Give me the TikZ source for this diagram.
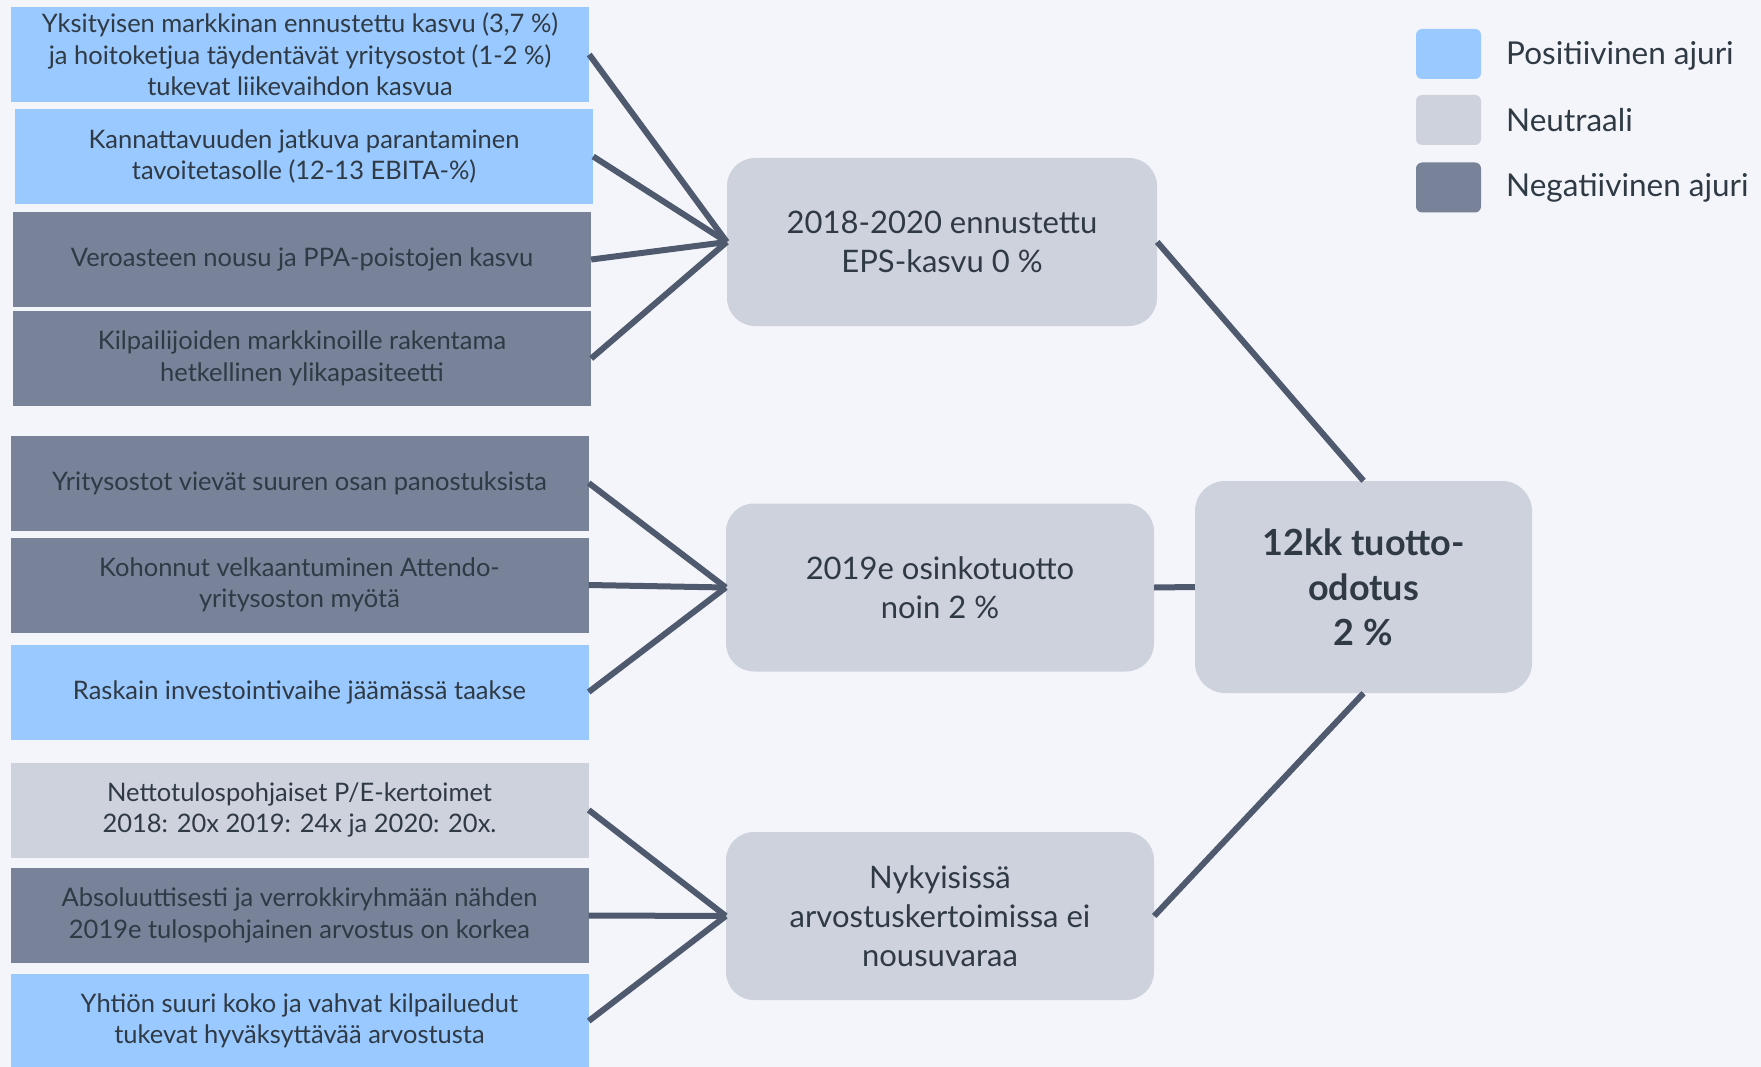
\documentclass[tikz,border=0pt]{standalone}
\usepackage{fontspec}
\setmainfont{Lato}
\definecolor{posblue}{HTML}{99C9FF}
\definecolor{neutralgray}{HTML}{CED2DD}
\definecolor{negslate}{HTML}{788299}
\definecolor{bgpaper}{HTML}{F4F5FA}
\definecolor{wirecol}{HTML}{4F5A6E}
\definecolor{inkcol}{HTML}{2F3A45}
\begin{document}
\begin{tikzpicture}[x=1pt,y=-1pt,
  drv/.style={minimum width=578pt,minimum height=95pt,inner sep=0pt,align=center,text=inkcol,font=\fontsize{25.5}{31.5}\selectfont},
  posdrv/.style={drv,fill=posblue},
  neudrv/.style={drv,fill=neutralgray},
  negdrv/.style={drv,fill=negslate},
  mid/.style={fill=neutralgray,rounded corners=28pt,minimum width=428pt,minimum height=168pt,inner sep=0pt,align=center,text=inkcol,font=\fontsize{31}{39}\selectfont},
  wire/.style={draw=wirecol,line width=6pt},
  legendsq/.style={fill=#1,rounded corners=6pt,minimum width=65pt,minimum height=50pt,inner sep=0pt},
  legendtxt/.style={anchor=west,inner sep=0pt,text=inkcol,font=\fontsize{31.5}{36}\selectfont}]
\fill[bgpaper] (0,0) rectangle (1761,1067);
\useasboundingbox (0,0) rectangle (1761,1067);
% vasen sarake: ajurit
\node[posdrv] (p1) at (300,54.5) {Yksityisen markkinan ennustettu kasvu (3,7 \%)\\ja hoitoketjua täydentävät yritysostot (1-2 \%)\\tukevat liikevaihdon kasvua};
\node[posdrv] (p2) at (304,156.5) {Kannattavuuden jatkuva parantaminen\\tavoitetasolle (12-13 EBITA-\%)};
\node[negdrv] (p3) at (302,259.5) {Veroasteen nousu ja PPA-poistojen kasvu};
\node[negdrv] (p4) at (302,358.5) {Kilpailijoiden markkinoille rakentama\\hetkellinen ylikapasiteetti};
\node[negdrv] (p5) at (299.5,483) {Yritysostot vievät suuren osan panostuksista};
\node[negdrv] (p6) at (299.5,585) {Kohonnut velkaantuminen Attendo-\\yritysoston myötä};
\node[posdrv] (p7) at (299.5,692) {Raskain investointivaihe jäämässä taakse};
\node[neudrv] (p8) at (299.5,810) {Nettotulospohjaiset P/E-kertoimet\\2018: 20x 2019: 24x ja 2020: 20x.};
\node[negdrv] (p9) at (299.5,915.5) {Absoluuttisesti ja verrokkiryhmään nähden\\2019e tulospohjainen arvostus on korkea};
\node[posdrv] (p10) at (299.5,1021) {Yhtiön suuri koko ja vahvat kilpailuedut\\tukevat hyväksyttävää arvostusta};
% keskisarake
\node[mid,minimum width=430pt] (m1) at (942,242) {2018-2020 ennustettu\\EPS-kasvu 0 \%};
\node[mid] (m2) at (940,587.5) {2019e osinkotuotto\\noin 2 \%};
\node[mid] (m3) at (940,916) {Nykyisissä\\arvostuskertoimissa ei\\nousuvaraa};
% tulos
\node[mid,rounded corners=30pt,minimum width=337pt,minimum height=212pt,font=\bfseries\fontsize{36}{45}\selectfont] (fin) at (1363.5,587) {12kk tuotto-\\odotus\\2 \%};
% viivat
\foreach \i in {1,2,3,4} \draw[wire] (p\i.east) -- (m1.west);
\foreach \i in {5,6,7} \draw[wire] (p\i.east) -- (m2.west);
\foreach \i in {8,9,10} \draw[wire] (p\i.east) -- (m3.west);
\draw[wire] (m1.east) -- (fin.north);
\draw[wire] (m2.east) -- (fin.west);
\draw[wire] (m3.east) -- (fin.south);
% selite
\node[legendsq=posblue] (k1) at (1448.5,54) {};
\node[legendsq=neutralgray] (k2) at (1448.5,120) {};
\node[legendsq=negslate] (k3) at (1448.5,187.5) {};
\node[legendtxt] (t1) at (1506,56) {Positiivinen ajuri};
\node[legendtxt] (t2) at (1506,120) {Neutraali};
\node[legendtxt] (t3) at (1506,187.5) {Negatiivinen ajuri};
\end{tikzpicture}
\end{document}
